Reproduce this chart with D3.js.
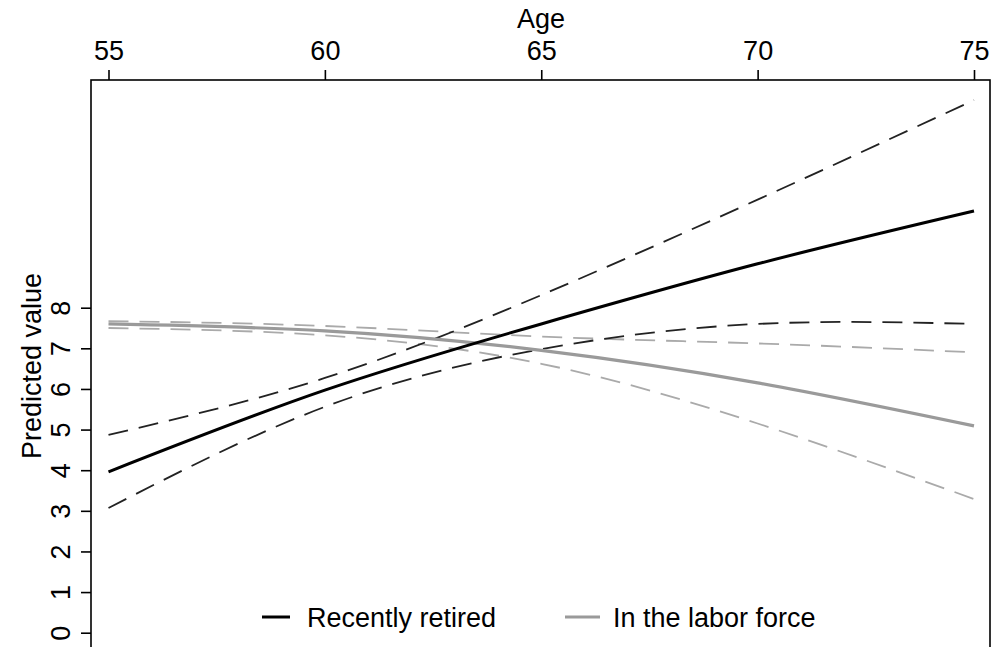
<!DOCTYPE html>
<html>
<head>
<meta charset="utf-8">
<script src="https://cdn.jsdelivr.net/npm/d3@7"></script>
<style>
  html, body { margin: 0; padding: 0; background: #fff; }
  svg { display: block; font-family: "Liberation Sans", Arial, sans-serif; }
</style>
</head>
<body>
<svg id="chart" width="997" height="647"></svg>
<script>
const ages = [55, 60, 65, 70, 75];
const xTicks = [55, 60, 65, 70, 75];
const yTicks = [0, 1, 2, 3, 4, 5, 6, 7, 8];

const retiredFit   = [3.96, 5.97, 7.60, 9.08, 10.38];
const retiredUpper = [4.87, 6.27, 8.31, 10.66, 13.11];
const retiredLower = [3.07, 5.56, 6.98, 7.60, 7.60];
const laborFit     = [7.60, 7.43, 6.95, 6.15, 5.09];
const laborUpper   = [7.67, 7.55, 7.29, 7.12, 6.90];
const laborLower   = [7.50, 7.32, 6.62, 5.15, 3.29];

const legendLabels = ["Recently retired", "In the labor force"];
const xTitle = "Age";
const yTitle = "Predicted value";

const svg = d3.select("#chart");
const box = { left: 91, top: 80, right: 990, bottom: 652 };

const x = d3.scaleLinear().domain([55, 75]).range([108.5, 974]);
const y = d3.scaleLinear().domain([0, 8]).range([632.7, 307.7]);

// plot box
svg.append("rect")
  .attr("x", box.left).attr("y", box.top)
  .attr("width", box.right - box.left).attr("height", box.bottom - box.top)
  .attr("fill", "none").attr("stroke", "#000").attr("stroke-width", 1.6);

// top axis
const gx = svg.append("g").attr("transform", `translate(0,${box.top})`)
  .call(d3.axisTop(x).tickValues(xTicks).tickSize(10).tickPadding(10).tickFormat(d3.format("d")));
gx.select(".domain").remove();
gx.selectAll("line").attr("stroke", "#000").attr("stroke-width", 1.6);
gx.selectAll("text").attr("font-size", 27).attr("fill", "#000")
  .attr("font-family", "'Liberation Sans', Arial, sans-serif");

// left axis
const gy = svg.append("g").attr("transform", `translate(${box.left},0)`)
  .call(d3.axisLeft(y).tickValues(yTicks).tickSize(10).tickFormat(d3.format("d")));
gy.select(".domain").remove();
gy.selectAll("line").attr("stroke", "#000").attr("stroke-width", 1.6);
gy.selectAll("text")
  .attr("font-size", 27).attr("fill", "#000")
  .attr("font-family", "'Liberation Sans', Arial, sans-serif")
  .attr("text-anchor", "middle")
  .attr("dy", null)
  .attr("x", 0).attr("y", -21)
  .attr("transform", "rotate(-90)");

// titles
svg.append("text").attr("x", 541).attr("y", 28).attr("text-anchor", "middle")
  .attr("font-size", 27).text(xTitle);
svg.append("text").attr("transform", "translate(41,366) rotate(-90)")
  .attr("text-anchor", "middle").attr("font-size", 27).text(yTitle);

// clip
svg.append("clipPath").attr("id", "clip").append("rect")
  .attr("x", box.left).attr("y", box.top)
  .attr("width", box.right - box.left).attr("height", box.bottom - box.top);

const line = d3.line().x(d => x(d[0])).y(d => y(d[1])).curve(d3.curveNatural);
const pts = vals => ages.map((a, i) => [a, vals[i]]);

const series = [
  { v: laborUpper,   color: "#aaaaaa", w: 1.8, dash: "20,11" },
  { v: laborLower,   color: "#aaaaaa", w: 1.8, dash: "20,11" },
  { v: retiredUpper, color: "#222222", w: 1.8, dash: "20,11" },
  { v: retiredLower, color: "#222222", w: 1.8, dash: "20,11" },
  { v: laborFit,     color: "#9a9a9a", w: 3.2, dash: null },
  { v: retiredFit,   color: "#000000", w: 3.0, dash: null }
];

const gl = svg.append("g").attr("clip-path", "url(#clip)");
gl.selectAll("path").data(series).join("path")
  .attr("d", d => line(pts(d.v)))
  .attr("fill", "none")
  .attr("stroke", d => d.color)
  .attr("stroke-width", d => d.w)
  .attr("stroke-dasharray", d => d.dash);

// legend
const legend = [
  { label: legendLabels[0], color: "#000000", x1: 262, x2: 290, tx: 307 },
  { label: legendLabels[1], color: "#9a9a9a", x1: 565, x2: 600, tx: 613 }
];
const lg = svg.append("g");
legend.forEach(l => {
  lg.append("line").attr("x1", l.x1).attr("x2", l.x2).attr("y1", 617).attr("y2", 617)
    .attr("stroke", l.color).attr("stroke-width", 3);
  lg.append("text").attr("x", l.tx).attr("y", 627).attr("font-size", 27).text(l.label);
});
</script>
</body>
</html>
